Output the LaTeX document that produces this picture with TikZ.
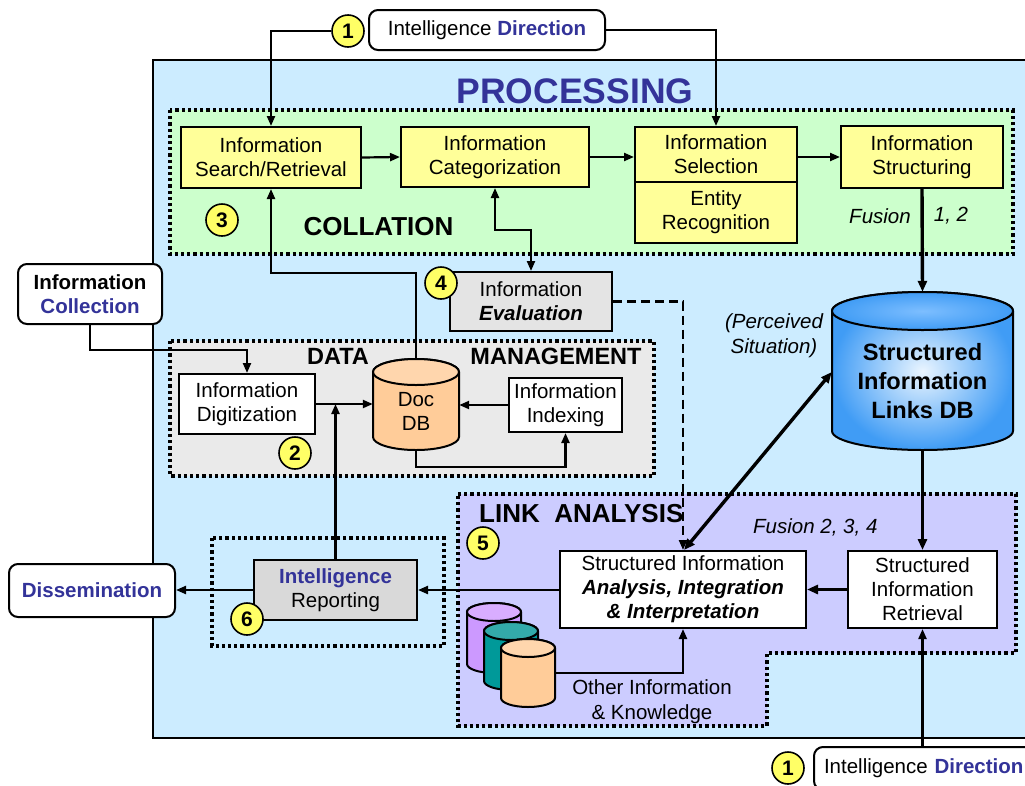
\documentclass[tikz,border=0pt]{standalone}
\usepackage{fontspec}
\setmainfont{Liberation Sans}
\usetikzlibrary{arrows.meta,calc}

\definecolor{procblue}{HTML}{CCECFF}
\definecolor{collgreen}{HTML}{CCFFCC}
\definecolor{boxyellow}{HTML}{FFFF99}
\definecolor{numyellow}{HTML}{FFFF66}
\definecolor{mgmtgray}{HTML}{EAEAEA}
\definecolor{evalgray}{HTML}{E4E4E4}
\definecolor{repgray}{HTML}{D9D9D9}
\definecolor{linkpurple}{HTML}{CCCCFF}
\definecolor{titleblue}{HTML}{333399}
\definecolor{docorange}{HTML}{FFCC99}
\definecolor{docorangetop}{HTML}{FFD6AD}
\definecolor{dbblue}{HTML}{409CF5}
\definecolor{dbtop}{HTML}{7DBEFF}
\definecolor{dblight}{HTML}{EAF5FF}
\definecolor{cylpurple}{HTML}{CC99FF}
\definecolor{cylpurpletop}{HTML}{D9ADFF}
\definecolor{cylteal}{HTML}{009999}
\definecolor{cylealtop}{HTML}{33AAAA}

\newcommand\fs{\fontsize{20.5}{24}\selectfont}

% database cylinder: name, left, right, top, bottom, ellipse radius, body fill, top fill
\newcommand\dbcyl[8]{%
  \path[#7, draw=black, line width=2pt]
    (#2,#4+#6) -- (#2,#5-#6)
    arc[start angle=180, end angle=0, x radius={(#3-#2)/2}, y radius=#6]
    -- (#3,#4+#6)
    arc[start angle=0, end angle=-180, x radius={(#3-#2)/2}, y radius=#6] -- cycle;
  \path[#8, draw=black, line width=2pt]
    ({(#2+#3)/2},#4+#6) ellipse[x radius={(#3-#2)/2}, y radius=#6];
  \path ({(#2+#3)/2},{(#4+#5)/2}) node[inner sep=0pt, minimum width={#3-#2}, minimum height={#5-#4}] (#1) {};
}

\begin{document}
\begin{tikzpicture}[x=1pt,y=-1pt,
  every node/.style={font=\fs, inner sep=0pt},
  region/.style={line width=3.4pt, dash pattern=on 3.2pt off 3pt},
  box/.style={draw, line width=2pt, align=center},
  ybox/.style={box, fill=boxyellow},
  wbox/.style={box, fill=white},
  rbox/.style={box, fill=white, rounded corners=9pt},
  num/.style={circle, draw, line width=1.6pt, fill=numyellow, minimum size=32pt, font=\bfseries\fontsize{21}{21}\selectfont},
  conn/.style={line width=2.2pt, -{Triangle[length=10pt,width=8pt]}},
  bothconn/.style={line width=2.2pt, {Triangle[length=10pt,width=8pt]}-{Triangle[length=10pt,width=8pt]}},
  heavy/.style={line width=3.4pt, -{Triangle[length=11pt,width=9pt]}},
  heavyboth/.style={line width=3.4pt, {Triangle[length=11pt,width=9pt]}-{Triangle[length=11pt,width=9pt]}},
  headtext/.style={font=\bfseries\fontsize{25}{28}\selectfont},
  ittext/.style={font=\itshape\fs, align=center}
]
\useasboundingbox (0,0) rectangle (1025,785);
\clip (0,0) rectangle (1025,785);

% ---------- regions ----------
\draw[line width=2.2pt, fill=procblue] (153,60) rectangle (1045,738);
\draw[region, fill=collgreen] (170,110) rectangle (1013,254);
\draw[region, fill=mgmtgray] (170,341) rectangle (654,476);
\draw[region, fill=linkpurple] (458,494) -- (1016,494) -- (1016,653) -- (767,653) -- (767,726) -- (458,726) -- cycle;
\draw[region] (212,538) rectangle (444,646);

% ---------- titles ----------
\node[font=\bfseries\fontsize{35.5}{40}\selectfont, text=titleblue] (proc) at (575,91.5) {PROCESSING};
\node[headtext, font=\bfseries\fontsize{26}{28}\selectfont] (coll) at (378.5,226.5) {COLLATION};
\node[headtext, font=\bfseries\fontsize{23.5}{26}\selectfont] (datat) at (338,356) {DATA};
\node[headtext, font=\bfseries\fontsize{23.5}{26}\selectfont] (mgmtt) at (556,356) {MANAGEMENT};
\node[headtext, font=\bfseries\fontsize{26}{28}\selectfont, anchor=west] (linkt) at (479,513.5) {LINK\ \ ANALYSIS};

% ---------- collation boxes ----------
\node[ybox, minimum width=180, minimum height=61] (search) at (271,157.5) {Information\\Search/Retrieval};
\node[ybox, minimum width=188, minimum height=60] (categ) at (495,157) {Information\\Categorization};
\node[ybox, minimum width=162, minimum height=55] (selection) at (716,154.5) {Information\\Selection};
\node[ybox, minimum width=162, minimum height=61] (entity) at (716,212.5) {Entity\\Recognition};
\node[ybox, minimum width=162, minimum height=62] (structuring) at (922,157) {Information\\Structuring};

\node[ittext] (fus1) at (880,216) {Fusion};
\node[ittext] (fus2) at (951,216) {1, 2};

% ---------- evaluation & data management ----------
\node[box, fill=evalgray, minimum width=162, minimum height=59] (eval) at (531,301.5) {Information\\\textbf{\textit{Evaluation}}};
\node[wbox, minimum width=136, minimum height=60] (digit) at (247,404) {Information\\Digitization};
\node[wbox, minimum width=113, minimum height=54] (indexing) at (565.5,405) {Information\\Indexing};
\dbcyl{docdb}{373}{459}{359}{450}{13}{fill=docorange}{fill=docorangetop}
\node[align=center] (docdbtext) at (416,411) {Doc\\DB};

% ---------- outside boxes ----------
\node[rbox, minimum width=236, minimum height=40] (topdir) at (487,30) {Intelligence \textcolor{titleblue}{\textbf{Direction}}};
\node[rbox, minimum width=144, minimum height=60] (collection) at (90,294) {\textbf{Information}\\\textcolor{titleblue}{\textbf{Collection}}};
\node[rbox, minimum width=166, minimum height=53] (dissem) at (92,590.5) {\textcolor{titleblue}{\textbf{Dissemination}}};
\node[rbox, anchor=west, text width=220, inner xsep=10pt, minimum height=43, align=left] (botdir) at (813,768.5) {Intelligence \textcolor{titleblue}{\textbf{Direction}}};

% ---------- structured information links DB ----------
\dbcyl{linksdb}{832}{1013}{292}{450}{19}{shade, inner color=dblight, outer color=dbblue}{shade, inner color=dbtop, outer color=dbblue}
\node[font=\bfseries\fontsize{23.6}{29}\selectfont, align=center] (linkstext) at (922.5,381) {Structured\\Information\\Links DB};
\node[ittext, font=\itshape\fontsize{20.5}{25}\selectfont] (perceived) at (774,335.5) {(Perceived\\Situation)};

% ---------- link analysis ----------
\node[wbox, minimum width=246, minimum height=77] (analysis) at (683,589.5) {Structured Information\\\textbf{\textit{Analysis, Integration}}\\\textbf{\textit{\& Interpretation}}};
\node[wbox, minimum width=149, minimum height=77] (retrieval) at (922.5,589.5) {Structured\\Information\\Retrieval};
\node[ittext, anchor=west] (fus3) at (753,527) {Fusion 2, 3, 4};
\dbcyl{cylA}{467}{521}{603}{673}{9}{fill=cylpurple}{fill=cylpurpletop}
\dbcyl{cylB}{484}{538}{622}{690}{9}{fill=cylteal}{fill=cylealtop}
\dbcyl{cylC}{501}{555}{639}{707}{9}{fill=docorange}{fill=docorangetop}
\node[align=center, font=\fontsize{20.5}{25}\selectfont] (otherinfo) at (652,702) {Other Information\\\& Knowledge};

% ---------- reporting ----------
\node[box, fill=repgray, minimum width=163, minimum height=60] (reporting) at (335.5,590) {\textcolor{titleblue}{\textbf{Intelligence}}\\Reporting};

% ---------- connectors ----------
\draw[conn] (topdir.east) -| (selection.north);
\draw[conn] (search.east) -- (categ.west);
\draw[conn] (categ.east) -- (categ.east -| selection.west);
\draw[conn] (selection.east |- structuring.west) -- (structuring.west);
\draw[heavy] (structuring.south) -- (linksdb.north);
\draw[conn] (docdb.north) -- ++(0,-86) -| (search.south);
\draw[bothconn] (categ.south) -- ++(0,42) -| (eval.north);
\draw[line width=2.2pt, dash pattern=on 9pt off 5pt, -{Triangle[length=10pt,width=8pt]}] (eval.east) -| (analysis.north);
\draw[conn] (collection.south) -- ++(0,25) -| (digit.north);
\draw[conn] (digit.east) -- (digit.east -| docdb.west);
\draw[conn] (indexing.west) -- (indexing.west -| docdb.east);
\draw[conn] (docdb.south) -- ++(0,17) -| (indexing.south);
\draw[conn] (reporting.north) -- (reporting.north |- digit.east);
\draw[conn] (analysis.west |- reporting.east) -- (reporting.east);
\draw[conn] (reporting.west) -- (reporting.west -| dissem.east);
\draw[heavy] (retrieval.west) -- (retrieval.west -| analysis.east);
\draw[heavy] (linksdb.south) -- (retrieval.north);
\draw[conn] (botdir.north -| retrieval.south) -- (retrieval.south);
\draw[heavyboth] ($(linksdb.west)+(0,1)$) -- ($(analysis.north)+(1,0)$);
\draw[conn] (cylC.east) -| (analysis.south);

% ---------- step numbers ----------
\node[num] (c1top) at (348,31) {1};
\draw[conn] (c1top.west) -| (search.north);
\node[num] (c3) at (222,220) {3};
\node[num] (c4) at (441,283) {4};
\node[num] (c2) at (295,453) {2};
\node[num] (c5) at (483,543) {5};
\node[num] (c6) at (247,619) {6};
\node[num] (c1bot) at (788,768) {1};
\end{tikzpicture}
\end{document}
